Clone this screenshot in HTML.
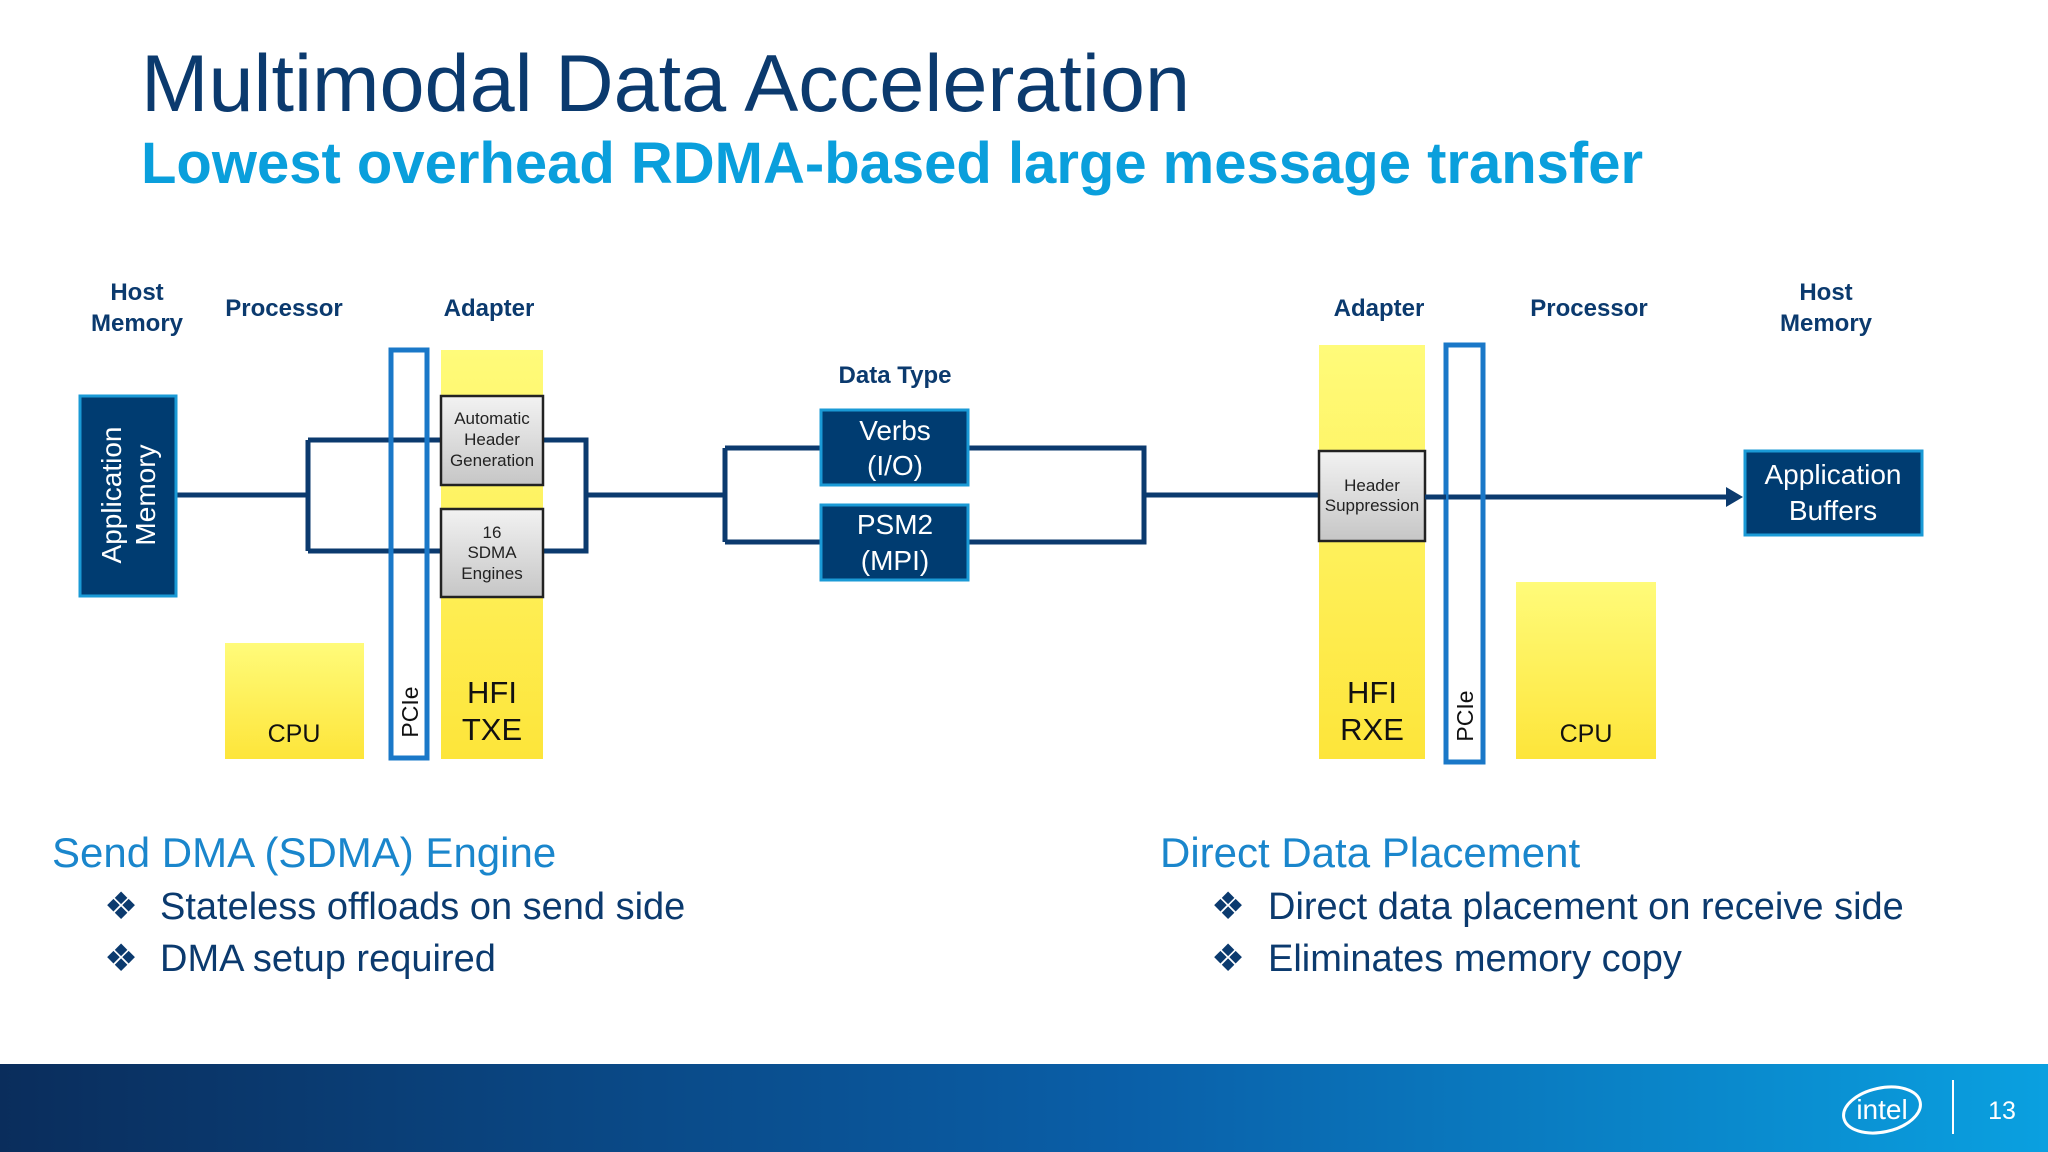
<!DOCTYPE html>
<html><head><meta charset="utf-8"><style>
html,body{margin:0;padding:0;background:#fff}
body{width:2048px;height:1152px;position:relative;overflow:hidden;font-family:"Liberation Sans",sans-serif}
.t{position:absolute;white-space:nowrap;line-height:1}
</style></head><body>
<div class="t" style="left:141px;top:44px;font-size:81px;color:#0b3a6e">Multimodal Data Acceleration</div>
<div class="t" style="left:141px;top:135px;font-size:58px;font-weight:bold;color:#0a9fdc">Lowest overhead RDMA-based large message transfer</div>

<div class="t" style="left:52px;top:832px;font-size:42px;color:#1a86cc">Send DMA (SDMA) Engine</div>
<div class="t" style="left:104px;top:888px;font-size:38px;color:#0b3a6e">❖</div>
<div class="t" style="left:160px;top:888px;font-size:38px;color:#0b3a6e">Stateless offloads on send side</div>
<div class="t" style="left:104px;top:940px;font-size:38px;color:#0b3a6e">❖</div>
<div class="t" style="left:160px;top:940px;font-size:38px;color:#0b3a6e">DMA setup required</div>

<div class="t" style="left:1160px;top:832px;font-size:42px;color:#1a86cc">Direct Data Placement</div>
<div class="t" style="left:1211px;top:888px;font-size:38px;color:#0b3a6e">❖</div>
<div class="t" style="left:1268px;top:888px;font-size:38px;color:#0b3a6e">Direct data placement on receive side</div>
<div class="t" style="left:1211px;top:940px;font-size:38px;color:#0b3a6e">❖</div>
<div class="t" style="left:1268px;top:940px;font-size:38px;color:#0b3a6e">Eliminates memory copy</div>

<svg width="2048" height="1152" style="position:absolute;left:0;top:0" xmlns="http://www.w3.org/2000/svg" font-family="Liberation Sans,sans-serif">
<defs>
<linearGradient id="yl" x1="0" y1="0" x2="0" y2="1"><stop offset="0" stop-color="#fffb7a"/><stop offset="1" stop-color="#fde53a"/></linearGradient>
<linearGradient id="gr" x1="0" y1="0" x2="0" y2="1"><stop offset="0" stop-color="#f2f2f2"/><stop offset="1" stop-color="#c6c6c6"/></linearGradient>
<linearGradient id="ft" x1="0" y1="0" x2="1" y2="0"><stop offset="0" stop-color="#0a2d5c"/><stop offset="0.55" stop-color="#0a5fa8"/><stop offset="1" stop-color="#0aa0e0"/></linearGradient>
</defs>
<g font-weight="bold" font-size="24" fill="#0b3a6e" text-anchor="middle">
<text x="137" y="300">Host</text><text x="137" y="331">Memory</text>
<text x="284" y="316">Processor</text><text x="489" y="316">Adapter</text>
<text x="895" y="383">Data Type</text>
<text x="1379" y="316">Adapter</text><text x="1589" y="316">Processor</text>
<text x="1826" y="300">Host</text><text x="1826" y="331">Memory</text>
</g>
<!-- connectors -->
<g fill="none" stroke="#0b3a6e" stroke-width="5">
<path d="M176 495 H308 M308 440 V551 M308 440 H441 M308 551 H441 M543 440 H586 V551 H543 M586 495 H725 M725 448 V542 M725 448 H820 M725 542 H820 M969 448 H1144 V542 H969 M1144 495 H1319 M1425 497 H1728"/>
</g>
<path d="M1726 487 L1743 497 L1726 507 Z" fill="#0b3a6e"/>

<!-- left -->
<rect x="80" y="396" width="96" height="200" fill="#003c71" stroke="#1a9ad6" stroke-width="3"/>
<text transform="translate(121,495) rotate(-90)" text-anchor="middle" font-size="28" fill="#fff">Application</text>
<text transform="translate(155,495) rotate(-90)" text-anchor="middle" font-size="28" fill="#fff">Memory</text>
<rect x="225" y="643" width="139" height="116" fill="url(#yl)"/>
<text x="294" y="742" text-anchor="middle" font-size="25" fill="#111">CPU</text>
<rect x="391" y="350" width="36" height="408" fill="none" stroke="#1a78c8" stroke-width="5"/>
<text transform="translate(418,712) rotate(-90)" text-anchor="middle" font-size="23" fill="#111">PCIe</text>
<rect x="441" y="350" width="102" height="409" fill="url(#yl)"/>
<rect x="441" y="396" width="102" height="89" fill="url(#gr)" stroke="#222" stroke-width="2.5"/>
<g font-size="17" fill="#222" text-anchor="middle">
<text x="492" y="424">Automatic</text><text x="492" y="445">Header</text><text x="492" y="466">Generation</text>
</g>
<rect x="441" y="509" width="102" height="88" fill="url(#gr)" stroke="#222" stroke-width="2.5"/>
<g font-size="17" fill="#222" text-anchor="middle">
<text x="492" y="538">16</text><text x="492" y="558">SDMA</text><text x="492" y="579">Engines</text>
</g>
<text x="492" y="703" text-anchor="middle" font-size="31" fill="#111">HFI</text>
<text x="492" y="740" text-anchor="middle" font-size="31" fill="#111">TXE</text>

<!-- middle -->
<rect x="821" y="410" width="147" height="75" fill="#003c71" stroke="#1a9ad6" stroke-width="3"/>
<text x="895" y="440" text-anchor="middle" font-size="28" fill="#fff">Verbs</text>
<text x="895" y="475" text-anchor="middle" font-size="28" fill="#fff">(I/O)</text>
<rect x="821" y="505" width="147" height="75" fill="#003c71" stroke="#1a9ad6" stroke-width="3"/>
<text x="895" y="534" text-anchor="middle" font-size="28" fill="#fff">PSM2</text>
<text x="895" y="570" text-anchor="middle" font-size="28" fill="#fff">(MPI)</text>

<!-- right -->
<rect x="1319" y="345" width="106" height="414" fill="url(#yl)"/>
<rect x="1319" y="451" width="106" height="90" fill="url(#gr)" stroke="#222" stroke-width="2.5"/>
<g font-size="17" fill="#222" text-anchor="middle">
<text x="1372" y="491">Header</text><text x="1372" y="511">Suppression</text>
</g>
<text x="1372" y="703" text-anchor="middle" font-size="31" fill="#111">HFI</text>
<text x="1372" y="740" text-anchor="middle" font-size="31" fill="#111">RXE</text>
<rect x="1446" y="345" width="37" height="417" fill="none" stroke="#1a78c8" stroke-width="5"/>
<path d="M1425 497 H1446" stroke="#0b3a6e" stroke-width="5"/>
<text transform="translate(1473,716) rotate(-90)" text-anchor="middle" font-size="23" fill="#111">PCIe</text>
<rect x="1516" y="582" width="140" height="177" fill="url(#yl)"/>
<text x="1586" y="742" text-anchor="middle" font-size="25" fill="#111">CPU</text>
<rect x="1745" y="451" width="177" height="84" fill="#003c71" stroke="#1a9ad6" stroke-width="3"/>
<text x="1833" y="484" text-anchor="middle" font-size="28" fill="#fff">Application</text>
<text x="1833" y="520" text-anchor="middle" font-size="28" fill="#fff">Buffers</text>

<!-- footer -->
<rect x="0" y="1064" width="2048" height="88" fill="url(#ft)"/>
<ellipse cx="1882" cy="1110" rx="39" ry="22" fill="none" stroke="#fff" stroke-width="3" transform="rotate(-12 1882 1110)"/>
<text x="1882" y="1119" text-anchor="middle" font-size="28" fill="#fff">intel</text>
<rect x="1952" y="1080" width="2" height="54" fill="#fff"/>
<text x="2002" y="1119" text-anchor="middle" font-size="25" fill="#fff">13</text>
</svg>
</body></html>
